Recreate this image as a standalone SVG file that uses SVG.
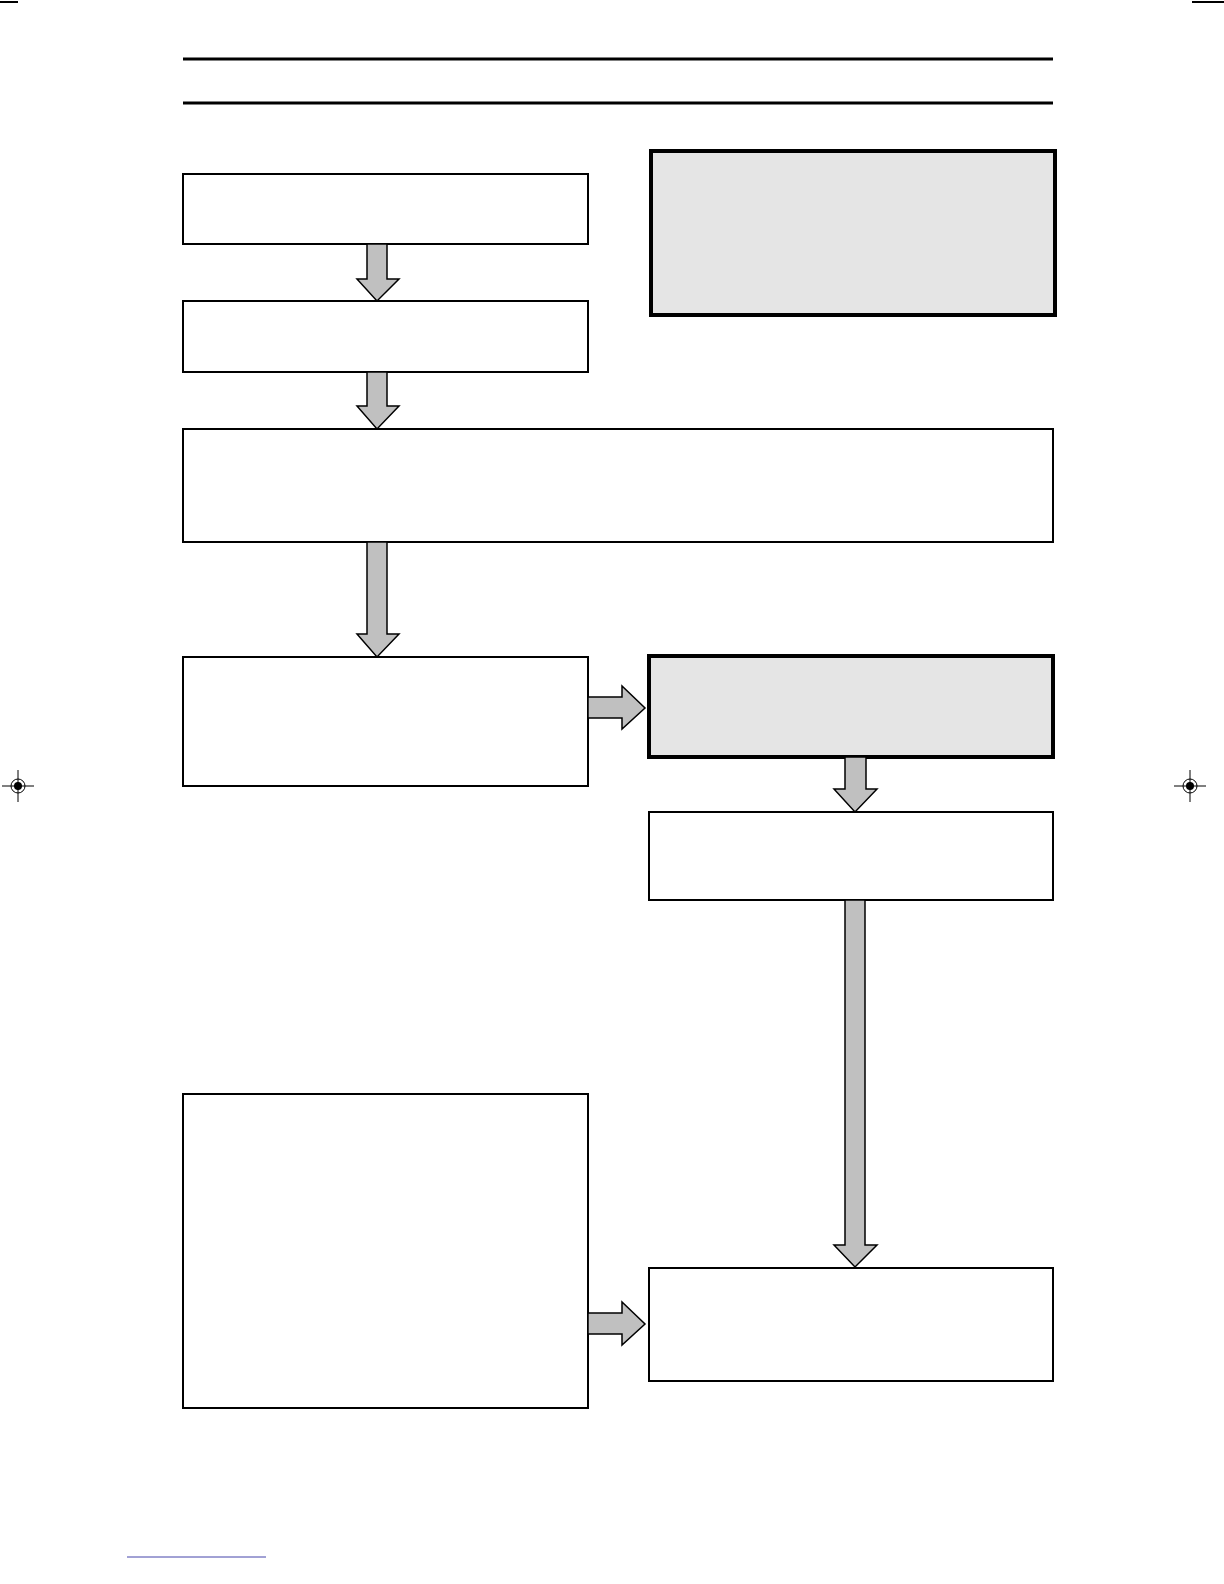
<svg xmlns="http://www.w3.org/2000/svg" width="1224" height="1584" viewBox="0 0 1224 1584">
<style>
.box{fill:#fff;stroke:#000;stroke-width:2}
.gbox{fill:#e5e5e5;stroke:#000;stroke-width:4}
.arr{fill:#c0c0c0;stroke:#000;stroke-width:1.5;stroke-linejoin:miter}
.rule{stroke:#000;stroke-width:3}
.reg{stroke:#000;stroke-width:1;fill:none}
</style>
<rect width="1224" height="1584" fill="#fff"/>
<line class="rule" x1="183" y1="59" x2="1053" y2="59"/>
<line class="rule" x1="183" y1="103" x2="1053" y2="103"/>
<line x1="0" y1="2" x2="18" y2="2" stroke="#000" stroke-width="2"/>
<line x1="1192" y1="2" x2="1224" y2="2" stroke="#000" stroke-width="2"/>
<line x1="127" y1="1557" x2="266" y2="1557" stroke="#44a" stroke-width="1"/>
<g id="reg-left"><circle class="reg" cx="18" cy="786" r="7"/><circle cx="18" cy="786" r="4"/><line class="reg" x1="2" y1="786" x2="34" y2="786"/><line class="reg" x1="18" y1="770" x2="18" y2="802"/></g>
<g id="reg-right"><circle class="reg" cx="1190" cy="786" r="7"/><circle cx="1190" cy="786" r="4"/><line class="reg" x1="1174" y1="786" x2="1206" y2="786"/><line class="reg" x1="1190" y1="770" x2="1190" y2="802"/></g>
<g id="n1"><rect class="box" x="183" y="174" width="405" height="70"/></g>
<g id="n2"><rect class="box" x="183" y="301" width="405" height="71"/></g>
<g id="n3"><rect class="gbox" x="651" y="151" width="404" height="164"/></g>
<g id="n4"><rect class="box" x="183" y="429" width="870" height="113"/></g>
<g id="n5"><rect class="box" x="183" y="657" width="405" height="129"/></g>
<g id="n6"><rect class="gbox" x="649" y="656" width="404" height="101"/></g>
<g id="n7"><rect class="box" x="649" y="812" width="404" height="88"/></g>
<g id="n8"><rect class="box" x="183" y="1094" width="405" height="314"/></g>
<g id="n9"><rect class="box" x="649" y="1268" width="404" height="113"/></g>
<g id="connectors">
<polygon class="arr" points="367,244 387,244 387,279 399,279 377,301 357,279 367,279"/>
<polygon class="arr" points="367,372 387,372 387,406 399,406 377,429 357,406 367,406"/>
<polygon class="arr" points="367,542 387,542 387,634 399,634 377,657 357,634 367,634"/>
<polygon class="arr" points="588,697 622,697 622,686 645,708 622,729 622,718 588,718"/>
<polygon class="arr" points="845,757 866,757 866,789 877,789 855,812 834,789 845,789"/>
<polygon class="arr" points="845,900 865,900 865,1245 877,1245 855,1267 834,1245 845,1245"/>
<polygon class="arr" points="588,1313 622,1313 622,1302 645,1324 622,1345 622,1334 588,1334"/>
</g>
</svg>
